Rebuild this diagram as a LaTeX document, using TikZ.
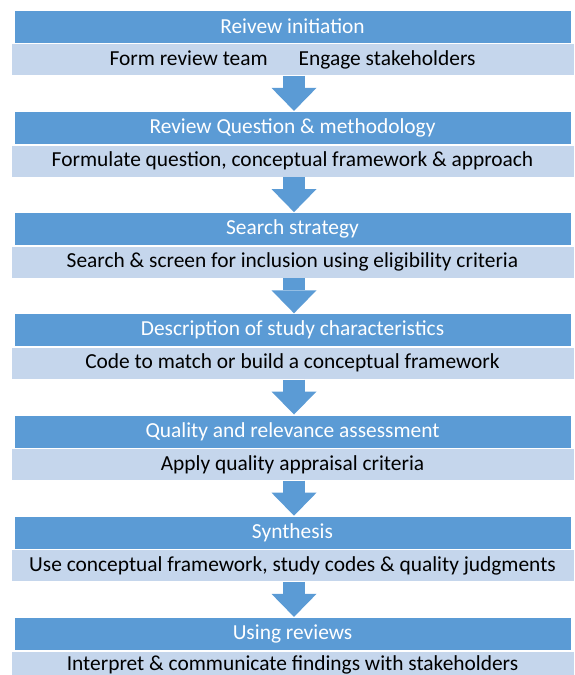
\documentclass[tikz,border=0pt]{standalone}
\usepackage{fontspec}
\setmainfont{Carlito}
\usetikzlibrary{positioning}
\usetikzlibrary{arrows.meta}
\definecolor{stepblue}{HTML}{5B9BD5}
\definecolor{steplight}{HTML}{C5D6EC}
\tikzset{head/.style={fill=stepblue,draw=white,line width=0.6pt,text=white,minimum width=557pt,minimum height=33pt,inner sep=0pt,font=\fontsize{21.4}{23}\selectfont}}
\tikzset{sub/.style={fill=steplight,draw=white,line width=0.6pt,text=black,minimum width=563pt,minimum height=32pt,inner sep=0pt,font=\fontsize{21.4}{23}\selectfont}}
\tikzset{flow/.style={draw=stepblue,line width=22pt,-{Triangle[width=45pt,length=23pt,line width=0pt]}}}

\begin{document}
\begin{tikzpicture}[x=1pt,y=1pt]
\useasboundingbox (0,0) rectangle (574,-675);
\node[head] (h1) at (292.5,-26.5) {Reivew initiation};
\node[sub] (s1) [below = 0pt of h1] {Form review team\hspace{31pt}Engage stakeholders};
\node[head] (h2) [below = 35pt of s1] {Review Question \& methodology};
\node[sub] (s2) [below = 0pt of h2] {Formulate question, conceptual framework \& approach};
\node[head] (h3) [below = 35pt of s2] {Search strategy};
\node[sub] (s3) [below = 0pt of h3] {Search \& screen for inclusion using eligibility criteria};
\node[head] (h4) [below = 35pt of s3] {Description of study characteristics};
\node[sub] (s4) [below = 0pt of h4] {Code to match or build a conceptual framework};
\node[head] (h5) [below = 35pt of s4] {Quality and relevance assessment};
\node[sub] (s5) [below = 0pt of h5] {Apply quality appraisal criteria};
\node[head] (h6) [below = 35pt of s5] {Synthesis};
\node[sub] (s6) [below = 0pt of h6] {Use conceptual framework, study codes \& quality judgments};
\node[head] (h7) [below = 35pt of s6] {Using reviews};
\node[sub,minimum height=28pt] (s7) [below = 0pt of h7] {Interpret \& communicate findings with stakeholders};

\draw[flow] ([xshift=1.5pt]s1.south) -- ([xshift=1.5pt]h2.north);
\draw[flow] ([xshift=1.5pt]s2.south) -- ([xshift=1.5pt]h3.north);
\draw[flow] ([xshift=1.5pt]s3.south) -- ([xshift=1.5pt]h4.north);
\draw[flow] ([xshift=1.5pt]s4.south) -- ([xshift=1.5pt]h5.north);
\draw[flow] ([xshift=1.5pt]s5.south) -- ([xshift=1.5pt]h6.north);
\draw[flow] ([xshift=1.5pt]s6.south) -- ([xshift=1.5pt]h7.north);
\end{tikzpicture}
\end{document}
